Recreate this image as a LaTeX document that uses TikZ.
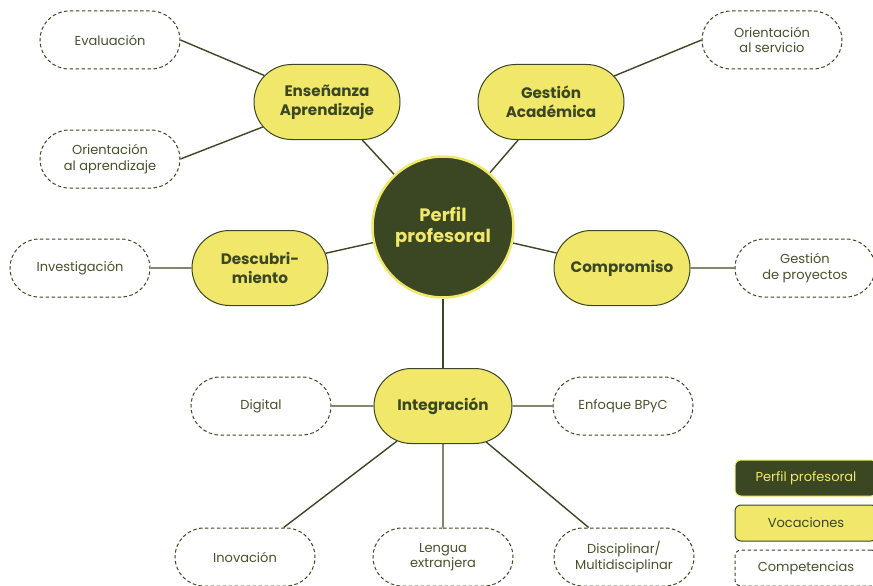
\documentclass[tikz,border=0pt]{standalone}
\usepackage{fontspec}
\setmainfont{Poppins}
\usetikzlibrary{shapes.misc,backgrounds}
\definecolor{dkgreen}{HTML}{3A4722}
\definecolor{ylw}{HTML}{F1E76B}
\definecolor{txt}{HTML}{45522C}
\begin{document}
\begin{tikzpicture}[x=1pt,y=-1pt,
  voc/.style={shape=rounded rectangle, draw=dkgreen, fill=ylw, line width=1pt,
    minimum width=150pt, minimum height=75pt, inner sep=2pt, align=center, text=dkgreen,
    font=\bfseries\fontsize{15.2}{19}\selectfont},
  comp/.style={shape=rounded rectangle, draw=dkgreen, fill=white, line width=1pt,
    dash pattern=on 3.5pt off 2.5pt, minimum width=144pt, minimum height=58pt,
    inner sep=2pt, align=center, text=txt, font=\fontsize{13}{15.5}\selectfont},
  perfil/.style={circle, draw=ylw, fill=dkgreen, line width=2.5pt, minimum size=141pt,
    align=center, text=ylw, font=\bfseries\fontsize{18}{21.5}\selectfont},
  legbox/.style={rectangle, rounded corners=6pt, minimum width=142pt, minimum height=36pt,
    line width=1pt, font=\fontsize{13}{15}\selectfont},
  conn/.style={draw=dkgreen, line width=1.4pt}]
\useasboundingbox (0,0) rectangle (873,586);
\clip (0,0) rectangle (873,586);

\node[perfil] (pp) at (443,227) {Perfil\\profesoral};

\node[voc] (ens) at (327,102) {Enseñanza\\Aprendizaje};
\node[voc] (ges) at (551,102) {Gestión\\Académica};
\node[voc, minimum width=140pt] (des) at (260,268) {Descubri-\\miento};
\node[voc, minimum width=140pt] (com) at (622,268) {Compromiso};
\node[voc, minimum width=142pt] (int) at (443,406) {Integración};

\node[comp] (eva) at (110,40) {Evaluación};
\node[comp] (oap) at (110,159) {Orientación\\al aprendizaje};
\node[comp] (ose) at (772,40) {Orientación\\al servicio};
\node[comp] (inv) at (80,268) {Investigación};
\node[comp] (gpr) at (805,268) {Gestión\\de proyectos};
\node[comp] (dig) at (261,406) {Digital};
\node[comp] (enf) at (623,406) {Enfoque BPyC};
\node[comp] (ino) at (245,557) {Inovación};
\node[comp] (len) at (443,557) {Lengua\\extranjera};
\node[comp] (dis) at (624,557) {Disciplinar/\\Multidisciplinar};

\node[legbox, fill=dkgreen, draw=ylw, text=ylw] (l1) at (806,478) {Perfil profesoral};
\node[legbox, fill=ylw, draw=dkgreen, text=dkgreen] (l2) at (806,523) {Vocaciones};
\node[legbox, fill=white, draw=dkgreen, dash pattern=on 3.5pt off 2.5pt, text=txt] (l3) at (806,568) {Competencias};

\begin{scope}[on background layer]
  \draw[conn] (eva.east) -- (ens);
  \draw[conn] (oap.east) -- (ens);
  \draw[conn] (ose.west) -- (ges);
  \draw[conn] (ens) -- (pp);
  \draw[conn] (ges) -- (pp);
  \draw[conn] (des) -- (pp);
  \draw[conn] (com) -- (pp);
  \draw[conn] (pp) -- (int);
  \draw[conn] (inv) -- (des);
  \draw[conn] (com) -- (gpr);
  \draw[conn] (dig) -- (int);
  \draw[conn] (int) -- (enf);
  \draw[conn] (int) -- (ino);
  \draw[conn] (int) -- (len);
  \draw[conn] (int) -- (dis);
\end{scope}
\end{tikzpicture}
\end{document}
